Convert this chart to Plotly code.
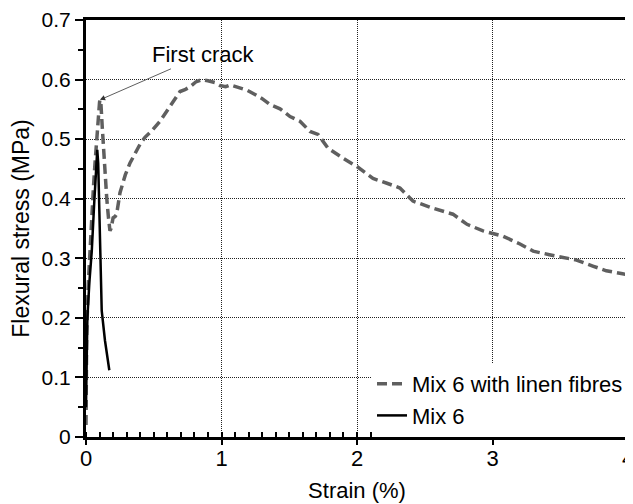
import plotly.graph_objects as go

# Mix 6 with linen fibres (dashed grey)
linen_strain = [0, 0.005, 0.017, 0.03, 0.042, 0.055, 0.066, 0.08, 0.09, 0.1, 0.103, 0.11, 0.12,
                0.128, 0.14, 0.153, 0.165, 0.177, 0.185, 0.2, 0.214, 0.226, 0.251, 0.29, 0.325,
                0.37, 0.4, 0.435, 0.49, 0.546, 0.6, 0.65, 0.694, 0.73, 0.768, 0.81, 0.856, 0.9,
                0.95, 0.989, 1.03, 1.063, 1.12, 1.19, 1.247, 1.30, 1.358, 1.432, 1.506, 1.579,
                1.653, 1.712, 1.786, 1.897, 2.0, 2.118, 2.221, 2.317, 2.413, 2.561, 2.708, 2.812,
                2.93, 3.0, 3.077, 3.203, 3.3, 3.42, 3.52, 3.62, 3.74, 3.84, 3.96, 4.0]
linen_stress = [0.02, 0.174, 0.257, 0.32, 0.374, 0.42, 0.458, 0.51, 0.54, 0.562, 0.566, 0.56, 0.52,
                0.485, 0.44, 0.401, 0.37, 0.346, 0.35, 0.368, 0.37, 0.374, 0.41, 0.44, 0.46,
                0.48, 0.492, 0.503, 0.515, 0.53, 0.548, 0.565, 0.58, 0.583, 0.588, 0.596, 0.600, 0.598,
                0.595, 0.59, 0.588, 0.591, 0.587, 0.582, 0.575, 0.568, 0.558, 0.551, 0.538, 0.53,
                0.513, 0.508, 0.485, 0.468, 0.454, 0.434, 0.426, 0.418, 0.396, 0.384, 0.374, 0.357,
                0.346, 0.341, 0.337, 0.324, 0.312, 0.306, 0.302, 0.297, 0.287, 0.279, 0.274, 0.272]

# Mix 6 (solid black)
mix6_strain = [0, 0.005, 0.01, 0.025, 0.042, 0.06, 0.075, 0.083, 0.09, 0.1, 0.108, 0.111, 0.116, 0.14, 0.172]
mix6_stress = [0.05, 0.12, 0.2, 0.26, 0.31, 0.39, 0.45, 0.482, 0.46, 0.38, 0.296, 0.25, 0.212, 0.162, 0.112]

x_ticks = [0, 1, 2, 3, 4]
y_ticks = [0, 0.1, 0.2, 0.3, 0.4, 0.5, 0.6, 0.7]
y_tick_labels = ["0", "0.1", "0.2", "0.3", "0.4", "0.5", "0.6", "0.7"]

crack_x, crack_y = 0.103, 0.566

FONT = "Liberation Sans, Arial, Helvetica, sans-serif"

fig = go.Figure()
fig.add_trace(go.Scatter(x=linen_strain, y=linen_stress, mode="lines",
                         name="Mix 6 with linen fibres",
                         line=dict(color="#5f5f5f", width=3.5, dash="10px,5px")))
fig.add_trace(go.Scatter(x=mix6_strain, y=mix6_stress, mode="lines", name="Mix 6",
                         line=dict(color="black", width=2.5)))

fig.add_annotation(x=crack_x, y=crack_y, text="First crack", showarrow=True,
                   ax=103, ay=-45, arrowhead=2, arrowsize=1.3, arrowwidth=0.8,
                   arrowcolor="#333", font=dict(size=22, color="black", family=FONT))

# page body has an 8px margin, so the figure is drawn 8px in from the window corner
fig.update_layout(
    width=625, height=496,
    margin=dict(l=78, r=5, t=12, b=67),
    paper_bgcolor="white", plot_bgcolor="white",
    font=dict(family=FONT, size=22, color="black"),
    showlegend=True,
    legend=dict(x=1.0, xanchor="right", y=0.0, yanchor="bottom",
                bgcolor="white", font=dict(size=22), tracegroupgap=0,
                itemwidth=30),
)
fig.update_xaxes(range=[0, 4], tickvals=x_ticks, ticktext=[str(v) for v in x_ticks],
                 showline=True, linewidth=3, linecolor="black", mirror=True,
                 ticks="outside", ticklen=5, tickwidth=2, tickcolor="black",
                 showgrid=True, gridcolor="#222", griddash="1px,1px", gridwidth=1,
                 minor=dict(dtick=0.1, tick0=0, ticks="inside", ticklen=5, tickwidth=2,
                            tickcolor="black", showgrid=False),
                 zeroline=False, automargin=False, ticklabeloverflow="allow",
                 ticklabelstandoff=-5,
                 title=dict(text="Strain (%)", standoff=13, font=dict(size=22)),
                 tickfont=dict(size=22))
fig.update_yaxes(range=[0, 0.7], tickvals=y_ticks, ticktext=y_tick_labels,
                 showline=True, linewidth=3, linecolor="black", mirror=True,
                 ticks="outside", ticklen=8, tickwidth=2, tickcolor="black",
                 showgrid=True, gridcolor="#222", griddash="1px,1px", gridwidth=1,
                 minor=dict(dtick=0.05, tick0=0, ticks="outside", ticklen=5, tickwidth=2,
                            tickcolor="black", showgrid=False),
                 zeroline=False, automargin=False, ticklabeloverflow="allow",
                 title=dict(text="Flexural stress (MPa)", standoff=12, font=dict(size=23)),
                 tickfont=dict(size=21))

fig.write_html("out.html")
